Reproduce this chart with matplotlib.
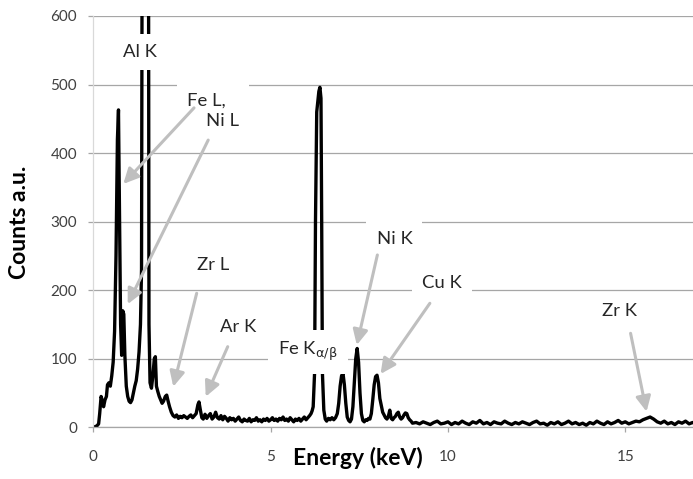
import matplotlib
matplotlib.use("Agg")
import matplotlib.pyplot as plt
from matplotlib.patches import ArrowStyle

plt.rcParams['font.family'] = ['Lato', 'DejaVu Sans']

# ---------------- data ----------------
energy_keV = [
    0.00, 0.05, 0.10, 0.15, 0.18, 0.22, 0.26, 0.29, 0.33, 0.37, 0.40, 0.44, 0.48, 0.52,
    0.56, 0.60, 0.64, 0.68, 0.71, 0.74, 0.77, 0.80, 0.83, 0.86, 0.89, 0.93, 0.97, 1.01,
    1.05, 1.09, 1.13, 1.17, 1.21, 1.25, 1.29, 1.33, 1.36, 1.38, 1.47, 1.555, 1.57,
    1.60, 1.64, 1.68, 1.72, 1.75, 1.78, 1.82, 1.86, 1.90, 1.94, 1.98, 2.03, 2.07,
    2.11, 2.15, 2.20, 2.25, 2.30, 2.35, 2.40, 2.45, 2.50, 2.55, 2.60, 2.65, 2.70, 2.75,
    2.80, 2.85, 2.90, 2.95, 2.98, 3.02, 3.06, 3.10, 3.15, 3.20, 3.25, 3.30, 3.35, 3.40,
    3.45, 3.50, 3.55, 3.60, 3.65, 3.70, 3.75, 3.80, 3.85, 3.90, 3.95, 4.00, 4.05, 4.10,
    4.15, 4.20, 4.25, 4.30, 4.35, 4.40, 4.45, 4.50, 4.55, 4.60, 4.65, 4.70, 4.75, 4.80,
    4.85, 4.90, 4.95, 5.00, 5.05, 5.10, 5.15, 5.20, 5.25, 5.30, 5.35, 5.40, 5.45, 5.50,
    5.55, 5.60, 5.65, 5.70, 5.75, 5.80, 5.85, 5.90, 5.95, 6.00, 6.05, 6.10, 6.14, 6.17,
    6.20, 6.24, 6.265, 6.30, 6.36, 6.39, 6.42, 6.44, 6.46, 6.50, 6.54, 6.58, 6.63, 6.68,
    6.73, 6.78, 6.83, 6.88, 6.92, 6.96, 7.00, 7.04, 7.08, 7.12, 7.16, 7.20, 7.24, 7.28,
    7.32, 7.36, 7.40, 7.44, 7.48, 7.52, 7.56, 7.60, 7.64, 7.68, 7.72, 7.76, 7.80, 7.84,
    7.88, 7.92, 7.96, 8.00, 8.04, 8.08, 8.12, 8.16, 8.20, 8.24, 8.28, 8.32, 8.36, 8.40,
    8.44, 8.48, 8.52, 8.56, 8.60, 8.64, 8.68, 8.72, 8.76, 8.80, 8.84, 8.88, 8.92, 8.96,
    9.00,
    9.1, 9.2, 9.3, 9.4, 9.5, 9.6, 9.7, 9.8, 9.9, 10.0, 10.1, 10.2, 10.3, 10.4, 10.5,
    10.6, 10.7, 10.8, 10.9, 11.0, 11.1, 11.2, 11.3, 11.4, 11.5, 11.6, 11.7, 11.8, 11.9,
    12.0, 12.1, 12.2, 12.3, 12.4, 12.5, 12.6, 12.7, 12.8, 12.9, 13.0, 13.1, 13.2, 13.3,
    13.4, 13.5, 13.6, 13.7, 13.8, 13.9, 14.0, 14.1, 14.2, 14.3, 14.4, 14.5, 14.6, 14.7,
    14.8, 14.9, 15.0, 15.1, 15.2, 15.3, 15.4, 15.5, 15.6, 15.7, 15.8, 15.9, 16.0, 16.1,
    16.2, 16.3, 16.4, 16.5, 16.6, 16.7, 16.8, 16.9, 17.0,
]
counts = [
    0, 1, 2, 5, 20, 45, 38, 30, 40, 45, 62, 65, 60, 75,
    95, 140, 250, 420, 463, 300, 150, 105, 170, 165, 105, 60, 45, 38,
    36, 40, 50, 60, 68, 85, 110, 150, 230, 800, 1500, 800, 150,
    65, 57, 75, 100, 103, 60, 52, 45, 40, 35, 38, 45, 47,
    38, 30, 22, 17, 15, 18, 13, 16, 14, 17, 15, 13, 16, 18,
    14, 17, 20, 33, 37, 25, 14, 12, 19, 13, 17, 20, 12, 15,
    22, 14, 12, 17, 11, 16, 13, 9, 14, 11, 13, 9, 12, 15,
    10, 8, 12, 10, 9, 13, 8, 11, 10, 14, 9, 11, 8, 12,
    10, 13, 9, 11, 14, 10, 12, 9, 13, 11, 15, 10, 12, 9,
    14, 11, 8, 12, 10, 13, 9, 12, 15, 11, 14, 17, 20, 24,
    30, 80, 300, 460, 490, 496, 480, 300, 80, 25, 12, 9, 13, 11,
    14, 11, 14, 20, 35, 60, 75, 79, 62, 35, 15, 10, 8, 12,
    30, 65, 100, 115, 95, 50, 20, 10, 8, 11, 10, 13, 12, 20,
    40, 62, 74, 76, 65, 42, 32, 22, 18, 14, 12, 16, 25, 13,
    11, 14, 16, 20, 22, 15, 12, 14, 18, 21, 20, 14, 11, 9,
    6,
    7, 5, 8, 6, 4, 7, 9, 5, 6, 8, 4, 7, 5, 9, 6,
    4, 8, 6, 10, 5, 7, 4, 8, 6, 5, 9, 6, 4, 7,
    5, 8, 6, 4, 7, 9, 5, 6, 3, 7, 5, 8, 4, 6,
    9, 5, 7, 4, 6, 3, 7, 5, 9, 6, 4, 8, 5, 7,
    10, 6, 8, 5, 7, 9, 8, 11, 13, 15, 12, 8, 6, 9,
    5, 7, 4, 8, 6, 9, 5, 7, 6,
]

x_ticks = [0, 5, 10, 15]
y_ticks = [0, 100, 200, 300, 400, 500, 600]

# peak labels: text, label position (x, y), arrow tail, arrow head
label_texts = ["Al K", "Fe L,\n    Ni L", "Zr L", "Ar K", "Fe K$_{\\mathrm{\\alpha/\\beta}}$",
               "Ni K", "Cu K", "Zr K"]
label_x = [1.32, 2.64, 3.39, 4.07, 5.21, 8.49, 9.82, 14.85]
label_y = [547, 462, 237, 147, 110, 275, 211, 170]
label_ha = ["center", "left", "center", "center", "left", "center", "center", "center"]

arrow_tail_x = [2.84, 3.24, 2.915, 3.79, 8.01, 9.49, 15.15]
arrow_tail_y = [466, 419, 195.5, 117.6, 251.4, 180.9, 137.1]
arrow_head_x = [0.846, 0.97, 2.255, 3.17, 7.43, 8.10, 15.60]
arrow_head_y = [355, 179.6, 59.2, 44.6, 120, 77.8, 22.8]

# ---------------- figure ----------------
fig = plt.figure(figsize=(6.93, 4.79), dpi=100)
ax = fig.add_axes([93.3 / 693, 1 - 427.3 / 479, (693 - 93.3) / 693, (427.3 - 16) / 479])

grid_col = "#A6A6A6"
ax.set_xlim(0, 16.91)
ax.set_ylim(0, 600)
ax.set_xticks(x_ticks)
ax.set_yticks(y_ticks)
ax.yaxis.grid(True, color=grid_col, lw=0.9, zorder=0)
ax.set_axisbelow(True)

for s in ["top", "right"]:
    ax.spines[s].set_visible(False)
ax.spines["left"].set_color("#D9D9D9")
ax.spines["left"].set_linewidth(0.9)
ax.spines["bottom"].set_color(grid_col)
ax.spines["bottom"].set_linewidth(0.9)

ax.tick_params(axis="x", direction="out", length=3.6, width=0.9, color=grid_col,
               pad=12.5, labelsize=11, labelcolor="#404040")
ax.tick_params(axis="y", direction="out", length=3.6, width=0.9, color=grid_col,
               pad=8, labelsize=11, labelcolor="#404040")

ax.plot(energy_keV, counts, color="black", lw=2.4, solid_joinstyle="round", zorder=2)

for t, x, y, ha in zip(label_texts, label_x, label_y, label_ha):
    ax.text(x, y, t, ha=ha, va="center", fontsize=13.3, color="#262626",
            linespacing=1.3, zorder=3,
            bbox=dict(boxstyle="square,pad=0.55", facecolor="white", edgecolor="none"))

astyle = ArrowStyle("-|>", head_length=0.65, head_width=0.32)
for tx, ty, hx, hy in zip(arrow_tail_x, arrow_tail_y, arrow_head_x, arrow_head_y):
    ax.annotate("", xy=(hx, hy), xytext=(tx, ty),
                arrowprops=dict(arrowstyle=astyle, color="#BFBFBF", lw=2.2,
                                mutation_scale=14, shrinkA=0, shrinkB=0),
                zorder=4)

fig.text(357.5 / 693, 1 - 458 / 479, "Energy (keV)", ha="center", va="center",
         fontsize=16.5, fontweight="bold", color="black")
fig.text(20 / 693, 1 - 222 / 479, "Counts a.u.", ha="center", va="center",
         rotation=90, fontsize=16.5, fontweight="bold", color="black")

fig.savefig("out.png", dpi=100)
